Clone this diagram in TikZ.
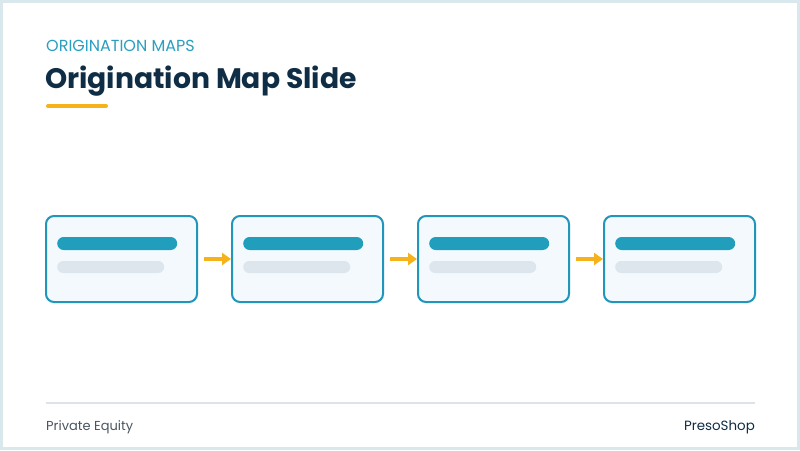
\documentclass[tikz,border=0pt]{standalone}
\usepackage{fontspec}
\usepackage{tikz}
\usetikzlibrary{arrows.meta}
\setmainfont{Poppins}

\definecolor{mapblue}{HTML}{2196BA}
\definecolor{barblue}{HTML}{229EBD}
\definecolor{cardfill}{HTML}{F3F9FC}
\definecolor{bargray}{HTML}{DDE6ED}
\definecolor{flowgold}{HTML}{F6B21B}
\definecolor{inkdark}{HTML}{0F2D44}
\definecolor{kickblue}{HTML}{2A9FC0}
\definecolor{rulegray}{HTML}{DDE3E8}
\definecolor{framegray}{HTML}{D8E8EC}
\definecolor{footgray}{HTML}{4A5560}

\tikzset{
	stage/.style={draw=mapblue, line width=2pt, fill=cardfill, rounded corners=8pt,
		minimum width=151pt, minimum height=86pt, inner sep=0pt},
	bartop/.style={fill=barblue, rounded corners=6.5pt, minimum width=120pt,
		minimum height=13pt, inner sep=0pt, anchor=west},
	barlow/.style={fill=bargray, rounded corners=6pt, minimum width=107pt,
		minimum height=12pt, inner sep=0pt, anchor=west},
	flow/.style={draw=flowgold, line width=3.5pt, -{Triangle[length=9pt,width=12pt]}}
}

\begin{document}
\begin{tikzpicture}[x=1pt,y=-1pt]
	\useasboundingbox (0,0) rectangle (800,450);
	\draw[framegray, line width=3pt, fill=white] (1.5,1.5) rectangle (798.5,448.5);
	
	% heading
	\node[anchor=base west, inner sep=0pt, text=kickblue, font=\fontsize{16}{19}\selectfont] (kicker) at (46,51) {ORIGINATION MAPS};
	\node[anchor=base west, inner sep=0pt, text=inkdark, font=\bfseries\fontsize{28.2}{33}\selectfont] (title) at (45,88) {Origination Map Slide};
	\draw[flowgold, line width=4pt, line cap=round] (48,106) -- (106,106);
	
	% stages
	\node[stage] (s1) at (121.5,259) {};
	\node[stage] (s2) at (307.5,259) {};
	\node[stage] (s3) at (493.5,259) {};
	\node[stage] (s4) at (679.5,259) {};
	
	\node[bartop] (t1) at ([xshift=12pt,yshift=15.5pt]s1.west) {};
	\node[barlow] (l1) at ([xshift=12pt,yshift=-8pt]s1.west) {};
	\node[bartop] (t2) at ([xshift=12pt,yshift=15.5pt]s2.west) {};
	\node[barlow] (l2) at ([xshift=12pt,yshift=-8pt]s2.west) {};
	\node[bartop] (t3) at ([xshift=12pt,yshift=15.5pt]s3.west) {};
	\node[barlow] (l3) at ([xshift=12pt,yshift=-8pt]s3.west) {};
	\node[bartop] (t4) at ([xshift=12pt,yshift=15.5pt]s4.west) {};
	\node[barlow] (l4) at ([xshift=12pt,yshift=-8pt]s4.west) {};
	
	\draw[flow] ([xshift=6pt]s1.east) -- (s2.west);
	\draw[flow] ([xshift=6pt]s2.east) -- (s3.west);
	\draw[flow] ([xshift=6pt]s3.east) -- (s4.west);
	
	% footer
	\draw[rulegray, line width=1.5pt] (46,403) -- (755,403);
	\node[anchor=base west, inner sep=0pt, text=footgray, font=\fontsize{13}{16}\selectfont] (foot) at (46,430) {Private Equity};
	\node[anchor=base east, inner sep=0pt, text=inkdark, font=\fontsize{13.4}{16}\selectfont] (brand) at (755,430) {PresoShop};
\end{tikzpicture}
\end{document}
